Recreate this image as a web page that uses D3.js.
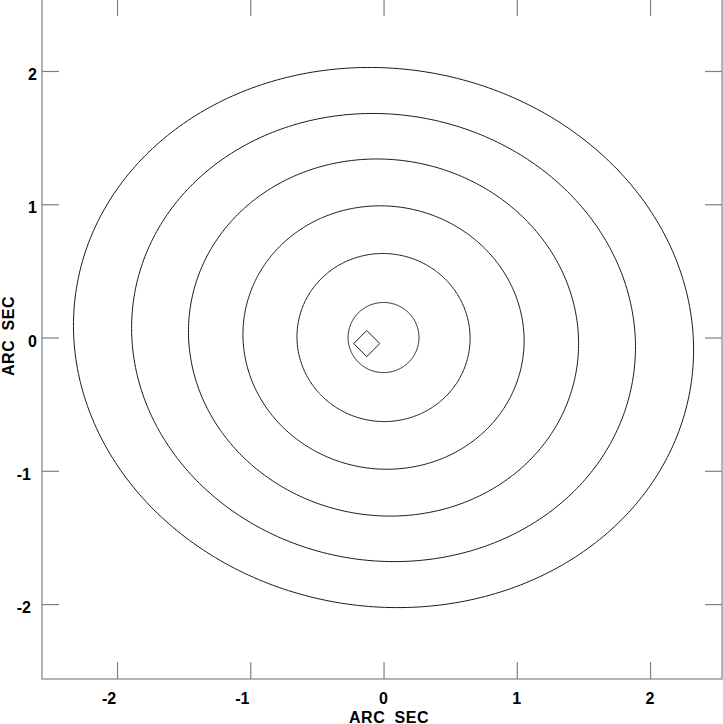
<!DOCTYPE html>
<html>
<head>
<meta charset="utf-8">
<script src="https://cdn.jsdelivr.net/npm/d3@7"></script>
<style>
  html, body { margin: 0; padding: 0; background: #fff; }
  svg { display: block; }
  text { font-family: "Liberation Sans", Arial, Helvetica, sans-serif; font-weight: bold; fill: #000; }
</style>
</head>
<body>
<svg id="chart" width="723" height="724"></svg>
<script>
// ---- data ----
const xTicks = [-2, -1, 0, 1, 2];
const yTicks = [-2, -1, 0, 1, 2];
const xTitle = "ARC SEC";
const yTitle = "ARC SEC";
// contour ellipses (arcsec): semi-major a, semi-minor b, tilt (deg, ccw positive)
const contourA    = [0.266, 0.650, 1.057, 1.468, 1.897, 2.334];
const contourB    = [0.263, 0.630, 0.986, 1.335, 1.674, 2.018];
const contourTilt = [0, -8, -10, -10.5, -10, -9];
const contourCx   = [0, 0, 0, 0, 0, 0];
const contourCy   = [0, 0, 0, 0, 0, 0];
// diamond marker (arcsec)
const markerX = [-0.126];
const markerY = [-0.045];
const markerR = [0.098];

// ---- layout ----
const svg = d3.select("#chart");
const pLeft = 42, pRight = 722, pTop = -1, pBottom = 679;
const x = d3.scaleLinear().domain([-2.563, 2.540]).range([pLeft, pRight]);
const y = d3.scaleLinear().domain([-2.562, 2.540]).range([pBottom, pTop]);

const axisColor = "#808080";
const tickLen = 17;

// contours
const line = d3.line().x(d => x(d[0])).y(d => y(d[1]));
const N = 360;
contourA.forEach((a, i) => {
  const b = contourB[i], th = contourTilt[i] * Math.PI / 180;
  const pts = d3.range(N + 1).map(k => {
    const t = 2 * Math.PI * k / N;
    const ex = a * Math.cos(t), ey = b * Math.sin(t);
    return [contourCx[i] + ex * Math.cos(th) - ey * Math.sin(th),
            contourCy[i] + ex * Math.sin(th) + ey * Math.cos(th)];
  });
  svg.append("path").attr("d", line(pts))
    .attr("fill", "none").attr("stroke", "#1a1a1a").attr("stroke-width", 1);
});

// diamond
markerX.forEach((mx, i) => {
  const my = markerY[i], r = markerR[i];
  const pts = [[mx, my + r], [mx + r, my], [mx, my - r], [mx - r, my], [mx, my + r]];
  svg.append("path").attr("d", line(pts))
    .attr("fill", "none").attr("stroke", "#1a1a1a").attr("stroke-width", 1);
});

// frame
svg.append("rect").attr("x", pLeft).attr("y", pTop)
  .attr("width", pRight - pLeft).attr("height", pBottom - pTop)
  .attr("fill", "none").attr("stroke", axisColor).attr("stroke-width", 1.2);

// axes (ticks inward on all four sides)
const axB = d3.axisBottom(x).tickValues(xTicks).tickSize(-tickLen).tickFormat("");
const axT = d3.axisTop(x).tickValues(xTicks).tickSize(-tickLen).tickFormat("");
const axL = d3.axisLeft(y).tickValues(yTicks).tickSize(-tickLen).tickFormat("");
const axR = d3.axisRight(y).tickValues(yTicks).tickSize(-tickLen).tickFormat("");
[[axB, `translate(0,${pBottom})`], [axT, `translate(0,${pTop})`],
 [axL, `translate(${pLeft},0)`], [axR, `translate(${pRight},0)`]].forEach(([ax, tr]) => {
  const g = svg.append("g").attr("transform", tr).call(ax);
  g.select(".domain").remove();
  g.selectAll(".tick line").attr("stroke", axisColor).attr("stroke-width", 1.2);
});

// tick labels
svg.append("g").selectAll("text").data(xTicks).join("text")
  .attr("x", d => x(d) + (d < 0 ? -8 : 0))
  .attr("y", 704)
  .attr("text-anchor", "middle")
  .attr("font-size", 16)
  .text(d => d);

svg.append("g").selectAll("text").data(yTicks).join("text")
  .attr("x", d => (d < 0 ? 31 : 37))
  .attr("y", d => y(d) + 9)
  .attr("text-anchor", "end")
  .attr("font-size", 16)
  .text(d => d);

// axis titles
svg.append("text").attr("x", 389).attr("y", 722.5)
  .attr("text-anchor", "middle").attr("font-size", 16)
  .attr("letter-spacing", 0.6)
  .attr("word-spacing", 4)
  .text(xTitle);

svg.append("text")
  .attr("transform", `translate(14,336) rotate(-90)`)
  .attr("text-anchor", "middle").attr("font-size", 16)
  .attr("letter-spacing", 0.6)
  .attr("word-spacing", 4)
  .text(yTitle);
</script>
</body>
</html>
